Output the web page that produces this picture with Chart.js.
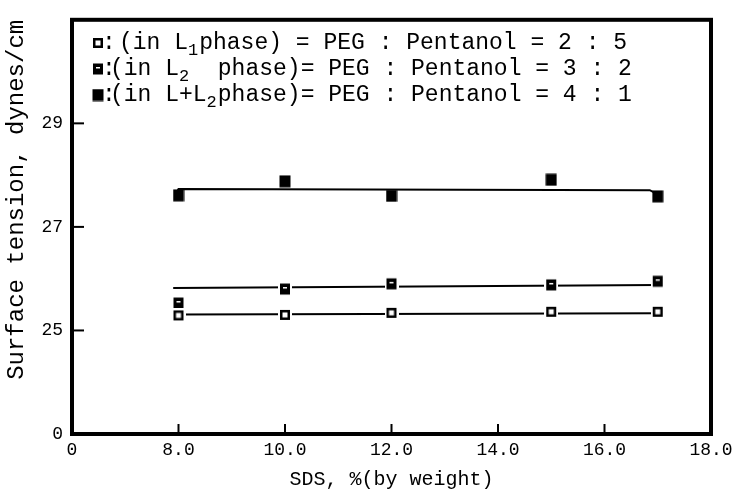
<!DOCTYPE html>
<html>
<head>
<meta charset="utf-8">
<script src="https://cdn.jsdelivr.net/npm/chart.js@4/dist/chart.umd.min.js"></script>
<style>
  html, body { margin: 0; padding: 0; background: #ffffff; }
  #wrap { width: 738px; height: 495px; }
</style>
</head>
<body>
<div id="wrap"><canvas id="c" width="738" height="495"></canvas></div>
<script>
// ---- data ----
const sdsPercent   = [8, 10, 12, 15, 17];
const tensionL1    = [25.29, 25.30, 25.34, 25.36, 25.36];   // open squares
const tensionL2    = [25.53, 25.80, 25.90, 25.88, 25.95];   // half-filled squares
const tensionLL2   = [27.61, 27.88, 27.60, 27.91, 27.59];   // filled squares

// fitted (drawn) lines
const fitL1X  = [8, 17];
const fitL1Y  = [25.31, 25.33];
const fitL2X  = [7.9, 17];
const fitL2Y  = [25.82, 25.88];
const fitLL2X = [7.95, 8.0, 16.85, 17];
const fitLL2Y = [27.64, 27.73, 27.71, 27.63];

const xTicks = [6, 8, 10, 12, 14, 16, 18];
const xTickLabels = ['0', '8.0', '10.0', '12.0', '14.0', '16.0', '18.0'];
const yTicks = [23, 25, 27, 29, 31];
const yTickLabels = ['0', '25', '27', '29', ''];

const legendTexts = [
  ['(in L', '1', 'phase) = PEG : Pentanol = 2 : 5'],
  ['(in L', '2', '  phase)= PEG : Pentanol = 3 : 2'],
  ['(in L+L', '2', 'phase)= PEG : Pentanol = 4 : 1']
];

const FONT = '"Liberation Mono", "DejaVu Sans Mono", monospace';

// ---- marker images ----
function makeMarker(kind) {
  const c = document.createElement('canvas');
  const w = kind === 3 ? 12 : 14, h = kind === 3 ? 13 : 14;
  c.width = w; c.height = h;
  const g = c.getContext('2d');
  if (kind === 1) {
    g.fillStyle = '#fff'; g.fillRect(0, 0, w, h);
    g.fillStyle = '#000'; g.fillRect(2, 2, 10, 10);
    g.fillStyle = '#fff'; g.fillRect(4.5, 4.5, 5, 5);
  } else if (kind === 2) {
    g.fillStyle = '#fff'; g.fillRect(0, 0, w, h);
    g.fillStyle = '#000'; g.fillRect(2, 1.5, 10, 11);
    g.fillStyle = '#fff'; g.fillRect(5, 5, 4, 1.5);
  } else {
    g.fillStyle = '#000'; g.fillRect(0.5, 0.5, 11, 12);
  }
  return c;
}
const mk1 = makeMarker(1), mk2 = makeMarker(2), mk3 = makeMarker(3);

function pts(xs, ys) { return xs.map((x, i) => ({ x: x, y: ys[i] })); }

const framePlugin = {
  id: 'frame',
  beforeDraw(chart) {
    const ctx = chart.ctx;
    ctx.save();
    ctx.fillStyle = '#fff';
    ctx.fillRect(0, 0, chart.width, chart.height);
    ctx.restore();
  },
  afterDraw(chart) {
    const ctx = chart.ctx, a = chart.chartArea;
    const xs = chart.scales.x, ys = chart.scales.y;
    ctx.save();
    ctx.strokeStyle = '#000';
    ctx.lineWidth = 2;
    // inward tick marks
    [25, 27, 29].forEach(v => {
      const y = ys.getPixelForValue(v);
      ctx.beginPath(); ctx.moveTo(a.left, y); ctx.lineTo(a.left + 12, y); ctx.stroke();
    });
    [8, 10, 12, 14, 16].forEach(v => {
      const x = xs.getPixelForValue(v);
      ctx.beginPath(); ctx.moveTo(x, a.bottom); ctx.lineTo(x, a.bottom - 10); ctx.stroke();
    });
    // frame
    ctx.lineWidth = 4;
    ctx.strokeRect(a.left, a.top, a.right - a.left, a.bottom - a.top);

    // legend
    const imgs = [mk1, mk2, mk3];
    const rowY = [43, 69, 95];
    const mainFont = '23px ' + FONT, subFont = '17px ' + FONT;
    ctx.fillStyle = '#000';
    ctx.textBaseline = 'middle';
    legendTexts.forEach((parts, i) => {
      const img = imgs[i];
      const mx = 98;
      ctx.drawImage(img, mx - img.width / 2, rowY[i] - img.height / 2);
      ctx.font = mainFont;
      ctx.textAlign = 'left';
      let x = 102;
      ctx.fillText(':', x, rowY[i]);
      x = i === 0 ? 119 : 110;
      ctx.fillText(parts[0], x, rowY[i]);
      x += ctx.measureText(parts[0]).width;
      ctx.font = subFont;
      ctx.fillText(parts[1], x, rowY[i] + 7);
      x += ctx.measureText(parts[1]).width + 1;
      ctx.font = mainFont;
      ctx.fillText(parts[2], x, rowY[i]);
    });
    ctx.restore();
  }
};

new Chart(document.getElementById('c'), {
  type: 'scatter',
  data: {
    datasets: [
      { label: 'L1', data: pts(sdsPercent, tensionL1), pointStyle: mk1, pointRadius: 6, showLine: false, order: 1 },
      { label: 'L2', data: pts(sdsPercent, tensionL2), pointStyle: mk2, pointRadius: 6, showLine: false, order: 1 },
      { label: 'L+L2', data: pts(sdsPercent, tensionLL2), pointStyle: mk3, pointRadius: 6, showLine: false, order: 1 },
      { label: 'fit1', data: pts(fitL1X, fitL1Y), showLine: true, pointRadius: 0, borderColor: '#000', borderWidth: 2, order: 2 },
      { label: 'fit2', data: pts(fitL2X, fitL2Y), showLine: true, pointRadius: 0, borderColor: '#000', borderWidth: 2, order: 2 },
      { label: 'fit3', data: pts(fitLL2X, fitLL2Y), showLine: true, pointRadius: 0, borderColor: '#000', borderWidth: 2, order: 2 }
    ]
  },
  options: {
    responsive: false,
    animation: false,
    layout: { padding: { top: 15, right: 27, left: 0, bottom: 0 } },
    plugins: { legend: { display: false }, tooltip: { enabled: false } },
    scales: {
      x: {
        type: 'linear', min: 6, max: 18,
        afterFit: s => { s.height = 61; },
        afterBuildTicks: s => { s.ticks = xTicks.map(v => ({ value: v })); },
        grid: { display: false, drawTicks: false },
        border: { display: false },
        ticks: {
          color: '#000', padding: 5, maxRotation: 0, autoSkip: false,
          font: { family: FONT, size: 18 },
          callback: v => xTickLabels[xTicks.indexOf(v)]
        },
        title: { display: true, text: 'SDS, %(by weight)', color: '#000', font: { family: FONT, size: 20 }, padding: { top: 0, bottom: 3 } }
      },
      y: {
        type: 'linear', min: 23, max: 31,
        afterFit: s => { s.width = 72; },
        afterBuildTicks: s => { s.ticks = yTicks.map(v => ({ value: v })); },
        grid: { display: false, drawTicks: false },
        border: { display: false },
        ticks: {
          color: '#000', padding: 9, autoSkip: false,
          font: { family: FONT, size: 18 },
          callback: v => yTickLabels[yTicks.indexOf(v)]
        },
        title: { display: true, text: 'Surface tension, dynes/cm', align: 'end', color: '#000', font: { family: FONT, size: 24 }, padding: { top: 2, bottom: 0 } }
      }
    }
  },
  plugins: [framePlugin]
});
</script>
</body>
</html>
